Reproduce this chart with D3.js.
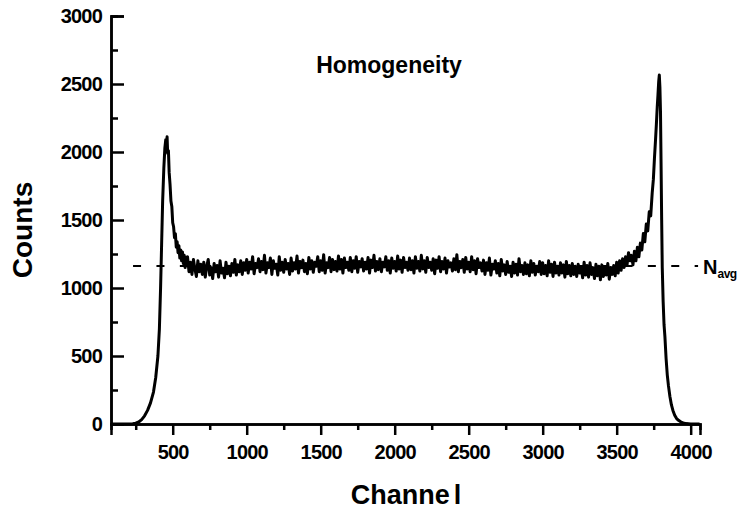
<!DOCTYPE html>
<html>
<head>
<meta charset="utf-8">
<script src="https://cdn.jsdelivr.net/npm/d3@7"></script>
<style>
  body { margin: 0; background: #fff; }
  svg text { font-family: "Liberation Sans", Arial, Helvetica, sans-serif; font-weight: bold; fill: #000; }
</style>
</head>
<body>
<div id="chart"></div>
<script>
// spectrum data
var leftChannels = [85,150,200,230,250,270,290,310,330,350,370,385,400,410,418,425,432,440,447,453,458,462,466,471,476,482,488,494,500,506,512,518,524,530,536,542,548,554,560,566,572,578,584,590];
var leftCounts = [0,0,0,2,6,15,32,60,100,155,235,340,500,700,1000,1320,1640,1880,2030,2090,2060,2112,1990,2010,1850,1760,1640,1600,1480,1450,1370,1400,1300,1340,1260,1310,1220,1280,1200,1265,1180,1240,1150,1220];

// flat part, one value every 10 channels starting at 600
var plateauStart = 600, plateauStep = 10;
var plateauCounts = [
  1230,1120,1190,1100,1210,1140,1085,1200,1120,1175,
  1100,1190,1080,1160,1210,1095,1150,1070,1180,1120,
  1165,1080,1200,1110,1145,1075,1190,1105,1160,1090,
  1180,1115,1210,1095,1170,1120,1200,1100,1185,1130,
  1210,1110,1190,1140,1230,1105,1180,1150,1215,1120,
  1195,1135,1240,1110,1185,1150,1220,1100,1200,1145,
  1175,1095,1230,1130,1190,1115,1210,1140,1180,1100,
  1220,1125,1185,1140,1235,1110,1195,1150,1205,1120,
  1180,1105,1225,1140,1200,1115,1190,1160,1230,1120,
  1200,1130,1245,1110,1185,1150,1225,1120,1210,1135,
  1195,1125,1235,1140,1210,1110,1220,1150,1190,1130,
  1225,1120,1200,1145,1230,1115,1195,1155,1215,1125,
  1190,1140,1225,1110,1205,1150,1240,1125,1195,1135,
  1215,1120,1190,1155,1230,1130,1200,1110,1220,1145,
  1195,1125,1235,1140,1205,1115,1225,1150,1190,1130,
  1220,1135,1200,1110,1230,1145,1195,1125,1240,1140,
  1200,1115,1225,1150,1190,1130,1215,1105,1205,1145,
  1230,1120,1195,1140,1220,1110,1200,1155,1185,1125,
  1215,1135,1245,1120,1195,1150,1210,1115,1225,1140,
  1190,1120,1230,1135,1200,1105,1215,1150,1185,1125,
  1205,1100,1185,1130,1220,1095,1175,1140,1200,1110,
  1180,1090,1210,1125,1170,1100,1195,1115,1160,1085,
  1190,1110,1175,1095,1215,1120,1165,1100,1185,1105,
  1170,1090,1200,1115,1180,1095,1160,1120,1195,1100,
  1185,1105,1165,1090,1200,1115,1175,1085,1190,1110,
  1160,1095,1185,1110,1170,1080,1195,1105,1165,1090,
  1180,1100,1160,1085,1175,1110,1155,1075,1190,1095,
  1165,1080,1185,1100,1150,1070,1175,1090,1160,1060,
  1170,1085,1155,1095,1180,1065,1150,1100,1165,1090,
  1190,1110,1200,1130,1215,1150,1230,1170,1260,1200
];

var rightChannels = [3600,3610,3620,3630,3640,3650,3660,3670,3680,3690,3700,3710,3720,3730,3740,3748,3755,3762,3768,3774,3779,3784,3788,3792,3796,3800,3804,3808,3814,3820,3826,3834,3842,3850,3860,3870,3880,3892,3905,3920,3935,3950,3970,4000,4060];
var rightCounts = [1240,1170,1270,1200,1300,1230,1330,1280,1400,1340,1470,1420,1560,1530,1700,1800,1950,2080,2200,2330,2420,2520,2566,2480,2300,1900,1500,1150,900,730,640,480,360,280,200,140,100,65,40,25,14,8,3,0,0];

var nAvg = 1162;
var avgRange = [232, 4050];

var xTicks = [500,1000,1500,2000,2500,3000,3500,4000];
var xMinor = [250,750,1250,1750,2250,2750,3250,3750];
var yTicks = [0,500,1000,1500,2000,2500,3000];
var yMinor = [250,750,1250,1750,2250,2750];

var W = 743, H = 511;
var svg = d3.select("#chart").append("svg")
  .attr("width", W).attr("height", H);

var x = d3.scaleLinear().domain([83, 4063]).range([111, 700]);
var y = d3.scaleLinear().domain([0, 3000]).range([424, 16]);

// put the spectrum together
var data = [];
leftChannels.forEach(function(c, i) { data.push([c, leftCounts[i]]); });
plateauCounts.forEach(function(v, i) { data.push([plateauStart + i * plateauStep, v]); });
rightChannels.forEach(function(c, i) { data.push([c, rightCounts[i]]); });

// average line (dashed)
svg.append("line")
  .attr("x1", x(avgRange[0])).attr("x2", x(avgRange[1]))
  .attr("y1", y(nAvg)).attr("y2", y(nAvg))
  .attr("stroke", "#000").attr("stroke-width", 2)
  .attr("stroke-dasharray", "8,15.4");

var line = d3.line()
  .x(function(d) { return x(d[0]); })
  .y(function(d) { return y(d[1]); });

svg.append("path")
  .datum(data)
  .attr("d", line)
  .attr("fill", "none")
  .attr("stroke", "#000")
  .attr("stroke-width", 3)
  .attr("stroke-linejoin", "round");

// axes
var fmt = d3.format("d");
var gx = svg.append("g").attr("transform", "translate(0," + y(0) + ")")
  .call(d3.axisBottom(x).tickValues(xTicks).tickFormat(fmt).tickSizeOuter(0).tickSize(11).tickPadding(10));
var gxm = svg.append("g").attr("transform", "translate(0," + y(0) + ")")
  .call(d3.axisBottom(x).tickValues(xMinor).tickSizeOuter(0).tickSize(6).tickFormat(""));
var gy = svg.append("g").attr("transform", "translate(" + x(83) + ",0)")
  .call(d3.axisLeft(y).tickValues(yTicks).tickFormat(fmt).tickSizeOuter(0).tickSize(-13).tickPadding(9));
var gym = svg.append("g").attr("transform", "translate(" + x(83) + ",0)")
  .call(d3.axisLeft(y).tickValues(yMinor).tickSizeOuter(0).tickSize(-7).tickFormat(""));

[gx, gxm, gy, gym].forEach(function(g) {
  g.select(".domain").attr("stroke", "#000").attr("stroke-width", 2.5);
  g.selectAll(".tick line").attr("stroke", "#000").attr("stroke-width", 2.5);
  g.selectAll("text")
    .style("font-size", "20px")
    .style("letter-spacing", "-0.8px")
    .attr("fill", "#000");
});

// titles
svg.append("text")
  .attr("x", 389).attr("y", 73)
  .attr("text-anchor", "middle")
  .style("font-size", "23px")
  .text("Homogeneity");

var xt = svg.append("text")
  .attr("x", 406).attr("y", 504)
  .attr("text-anchor", "middle")
  .style("font-size", "27px");
xt.append("tspan").text("Channe");
xt.append("tspan").attr("dx", 4).text("l");

svg.append("text")
  .attr("transform", "translate(32,230) rotate(-90)")
  .attr("text-anchor", "middle")
  .style("font-size", "28px")
  .text("Counts");

var nt = svg.append("text")
  .attr("x", x(avgRange[1]) + 5).attr("y", y(nAvg) + 8)
  .style("font-size", "20px");
nt.append("tspan").text("N");
nt.append("tspan").attr("dy", 4).style("font-size", "12px").style("letter-spacing", "-0.5px").text("avg");
</script>
</body>
</html>
